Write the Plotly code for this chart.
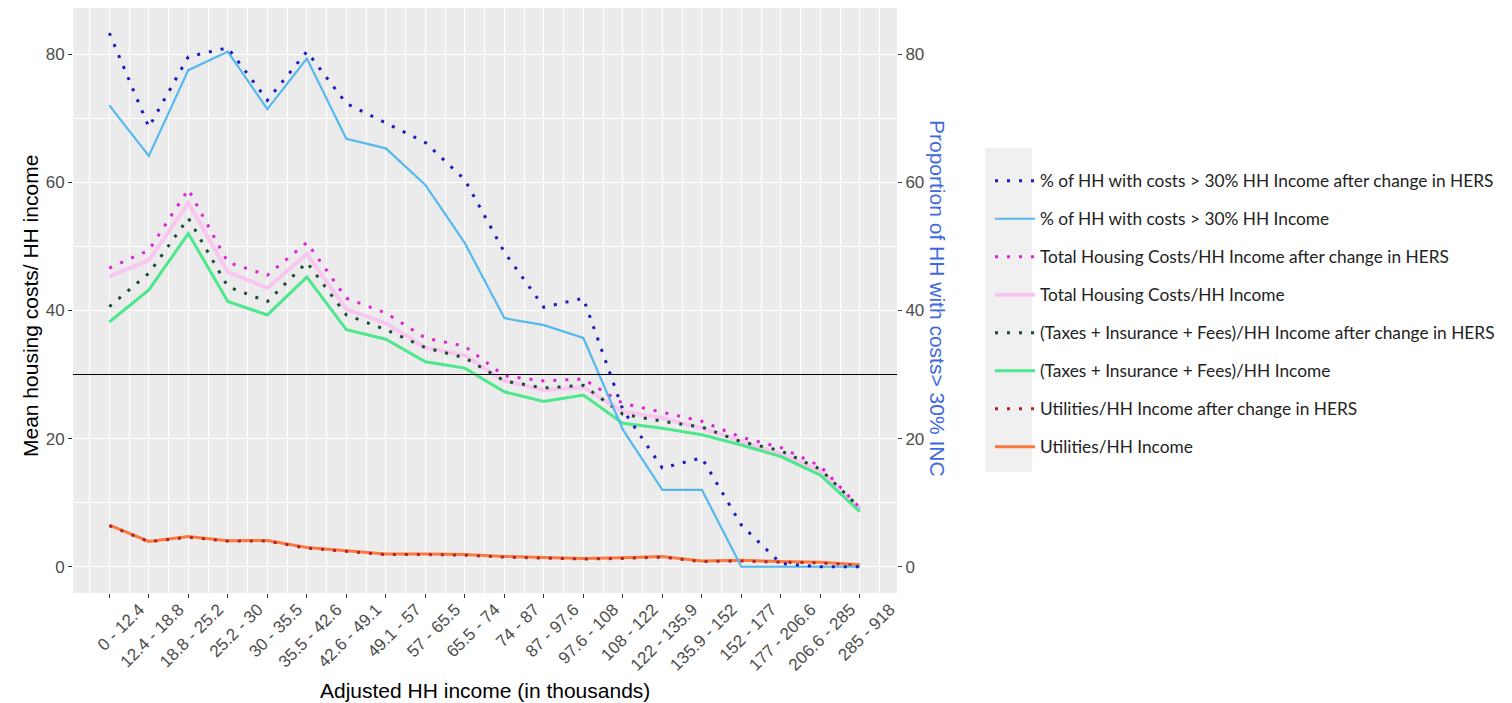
import plotly.graph_objects as go

categories = ["0 - 12.4", "12.4 - 18.8", "18.8 - 25.2", "25.2 - 30", "30 - 35.5",
              "35.5 - 42.6", "42.6 - 49.1", "49.1 - 57", "57 - 65.5", "65.5 - 74",
              "74 - 87", "87 - 97.6", "97.6 - 108", "108 - 122", "122 - 135.9",
              "135.9 - 152", "152 - 177", "177 - 206.6", "206.6 - 285", "285 - 918"]

pct_after = [83.3, 68.6, 79.6, 81.0, 72.8, 80.4, 72.3, 69.2, 66.2, 60.4,
             49.1, 40.5, 41.9, 24.5, 15.4, 17.0, 6.5, 0.5, 0.0, 0.0]
pct = [72.0, 64.1, 77.5, 80.4, 71.4, 79.3, 66.8, 65.3, 59.6, 50.5,
       38.8, 37.7, 35.7, 21.4, 12.0, 12.0, 0.0, 0.0, 0.0, 0.0]
total_after = [46.6, 49.4, 58.9, 47.5, 45.5, 50.6, 41.9, 39.6, 35.7, 34.4,
               29.8, 29.0, 29.3, 25.5, 24.1, 22.7, 20.2, 18.6, 15.7, 9.2]
total = [45.3, 47.8, 56.8, 46.0, 43.5, 48.8, 40.2, 38.0, 34.2, 33.0,
         29.0, 27.6, 28.0, 24.2, 23.2, 21.6, 19.6, 17.6, 15.0, 9.0]
taxes_after = [40.6, 45.8, 54.4, 43.7, 41.4, 47.5, 39.3, 37.0, 34.2, 32.6,
               29.0, 27.9, 28.3, 23.8, 22.7, 21.8, 19.5, 18.1, 15.2, 9.2]
taxes = [38.2, 43.2, 52.0, 41.4, 39.3, 45.2, 37.0, 35.5, 32.0, 31.0,
         27.3, 25.8, 26.8, 22.4, 21.6, 20.6, 19.0, 17.2, 14.3, 8.6]
util = [6.5, 3.95, 4.7, 4.05, 4.1, 3.0, 2.5, 2.0, 2.0, 1.9,
        1.6, 1.4, 1.3, 1.4, 1.6, 0.9, 1.0, 0.8, 0.7, 0.3]
util_after = [6.4, 3.9, 4.6, 4.0, 4.0, 2.9, 2.4, 1.9, 1.9, 1.8,
              1.5, 1.3, 1.2, 1.3, 1.5, 0.8, 0.9, 0.7, 0.6, 0.2]

x = list(range(len(categories)))

DOT = "3px,9px"
series = [
    # (name, values, color, width, dash, axis, legendrank)
    ("% of HH with costs > 30% HH Income", pct, "#56B9EE", 2.2, "solid", "y2", 2),
    ("Total Housing Costs/HH Income", total, "#F9C6F1", 4, "solid", "y", 4),
    ("(Taxes + Insurance + Fees)/HH Income", taxes, "#4DE88C", 3, "solid", "y", 6),
    ("Utilities/HH Income", util, "#FA7A3C", 3, "solid", "y", 8),
    ("% of HH with costs > 30% HH Income after change in HERS", pct_after, "#1C1CC4", 3, DOT, "y2", 1),
    ("Total Housing Costs/HH Income after change in HERS", total_after, "#E020D8", 3, DOT, "y", 3),
    ("(Taxes + Insurance + Fees)/HH Income after change in HERS", taxes_after, "#144D30", 3, DOT, "y", 5),
    ("Utilities/HH Income after change in HERS", util_after, "#B3202E", 3, DOT, "y", 7),
]

fig = go.Figure()
for name, vals, color, w, dash, ax, rank in series:
    fig.add_trace(go.Scatter(
        x=x, y=vals, mode="lines", name=name, yaxis=ax,
        line=dict(color=color, width=w, dash=dash),
        legendrank=rank, legendgroup=name,
    ))

# figure-space pixel geometry (page body adds an 8px offset)
L, R, T, B = 65, 889, 0, 585
W, H = 1504, 695
PW, PH = R - L, B - T

def px(xp):
    return (xp - L) / PW

def py(yp):
    return (B - yp) / PH

yr = [-4.1, 87.2]
tickfont = dict(family="Liberation Sans, Arial", size=17, color="#4D4D4D")

fig.update_layout(
    width=W, height=H,
    margin=dict(l=L, r=W - R, t=T, b=H - B),
    paper_bgcolor="white",
    plot_bgcolor="#EBEBEB",
    showlegend=True,
    legend=dict(
        x=px(982), y=py(155), xanchor="left", yanchor="top",
        bgcolor="rgba(0,0,0,0)",
        font=dict(family="Lato", size=17.3, color="#222222"),
        tracegroupgap=12.5,
        itemwidth=40,
    ),
    xaxis=dict(
        range=[-0.92, 19.94], tickmode="array", tickvals=x, ticktext=categories,
        tickangle=-45, tickfont=tickfont, ticks="outside", ticklen=4,
        tickcolor="#333333", showgrid=True, gridcolor="white", gridwidth=1,
        zeroline=False, showline=False, ticklabelshift=30, ticklabelstandoff=-5,
        minor=dict(tickmode="array", tickvals=[i - 0.5 for i in range(len(categories) + 1)],
                   showgrid=True, gridcolor="white", gridwidth=1, ticks=""),
    ),
    yaxis=dict(
        range=yr, tickvals=[0, 20, 40, 60, 80], tickfont=tickfont,
        ticks="outside", ticklen=4, tickcolor="#333333",
        showgrid=True, gridcolor="white", gridwidth=1, zeroline=False,
        minor=dict(tickvals=[10, 30, 50, 70], showgrid=True, gridcolor="white", gridwidth=1, ticks=""),
    ),
    yaxis2=dict(
        range=yr, tickvals=[0, 20, 40, 60, 80], tickfont=tickfont,
        overlaying="y", side="right", ticks="outside", ticklen=4,
        tickcolor="#333333", showgrid=False, zeroline=False,
    ),
)

fig.add_shape(type="line", xref="paper", yref="y", x0=0, x1=1, y0=30, y1=30,
              line=dict(color="black", width=1.2), layer="above")
# legend key background
fig.add_shape(type="rect", xref="paper", yref="paper",
              x0=px(977), x1=px(1024), y0=py(464), y1=py(140),
              fillcolor="#F0F0F0", line=dict(width=0), layer="below")

titlefont = dict(family="Liberation Sans, Arial", size=21, color="black")
fig.add_annotation(text="Mean housing costs/ HH income", xref="paper", yref="paper",
                   x=px(22), y=py(298), textangle=-90, showarrow=False,
                   xanchor="center", yanchor="middle", font=titlefont)
fig.add_annotation(text="Proportion of HH with costs> 30% INC", xref="paper", yref="paper",
                   x=px(930), y=py(291), textangle=90, showarrow=False,
                   xanchor="center", yanchor="middle",
                   font=dict(family="Liberation Sans, Arial", size=21, color="#4169E1"))
fig.add_annotation(text="Adjusted HH income (in thousands)", xref="paper", yref="paper",
                   x=px(477), y=py(682), showarrow=False,
                   xanchor="center", yanchor="middle", font=titlefont)

fig.write_html("out.html")
